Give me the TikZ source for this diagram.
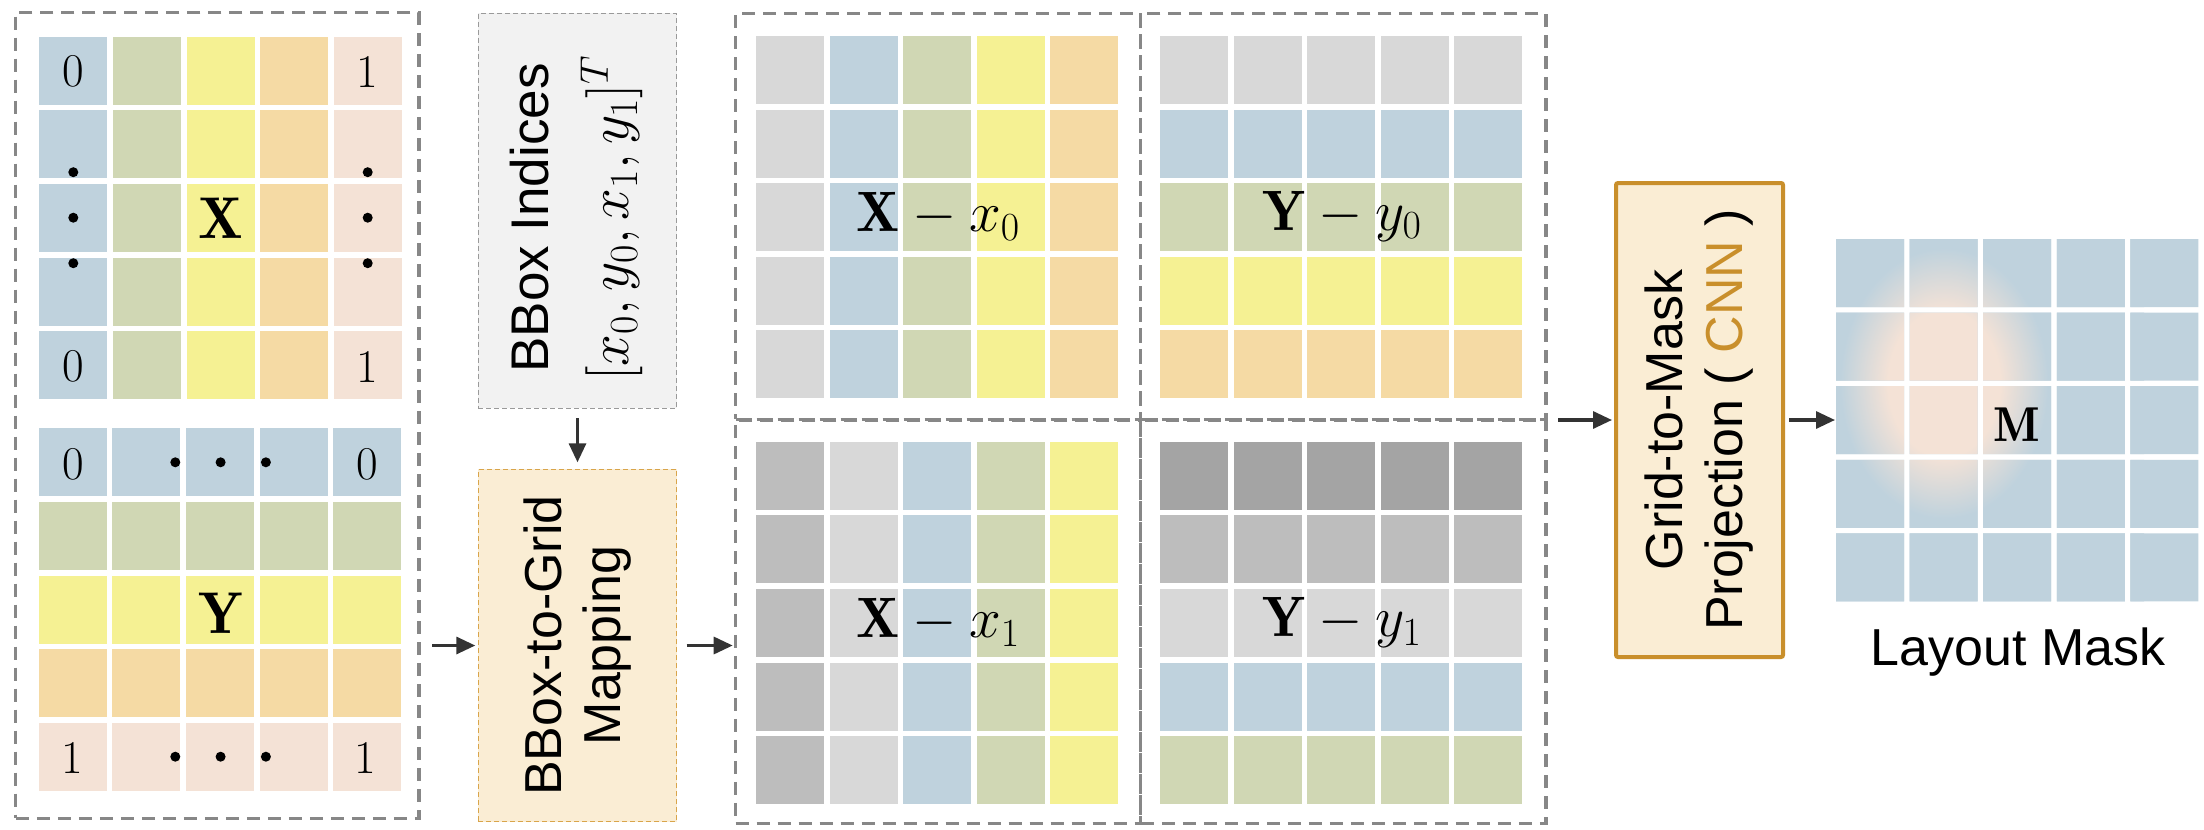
\RequirePackage{fix-cm}
\documentclass[tikz,border=0pt]{standalone}
\usepackage{fontspec}
\newfontfamily\labelfont{Liberation Sans}
\usetikzlibrary{arrows.meta}

% palette
\definecolor{cblue}{HTML}{BFD2DD}
\definecolor{cgreen}{HTML}{D0D7B4}
\definecolor{cyellow}{HTML}{F5F193}
\definecolor{corange}{HTML}{F5DAA4}
\definecolor{cpeach}{HTML}{F4E2D6}
\definecolor{gLight}{HTML}{D8D8D8}
\definecolor{gMid}{HTML}{BDBDBD}
\definecolor{gDark}{HTML}{A4A4A4}
\definecolor{panelgray}{HTML}{878787}
\definecolor{boxgray}{HTML}{F2F2F2}
\definecolor{boxedge}{HTML}{9A9A9A}
\definecolor{cream}{HTML}{FAEDD4}
\definecolor{gold}{HTML}{C98F2B}
\definecolor{goldlight}{HTML}{D9A54B}
\definecolor{arrowc}{HTML}{333333}

% soft peach region of the layout mask (25bp = half the shaded box)
\pgfdeclareradialshading{maskblob}{\pgfpoint{0bp}{0bp}}{%
  color(0bp)=(cpeach); color(7bp)=(cpeach); color(13bp)=(cblue); color(50bp)=(cblue)}

% 5x5 grid coloured by column / by row: #1,#2 = top-left corner, #3 = five colours
\newcommand\colgrid[3]{%
  \foreach \cc [count=\ci from 0] in {#3}{%
    \foreach \rj in {0,...,4}{%
      \fill[\cc] ({#1+\ci*73.6},{#2+\rj*73.6}) rectangle ++(68,68);}}}
\newcommand\rowgrid[3]{%
  \foreach \cc [count=\rj from 0] in {#3}{%
    \foreach \ci in {0,...,4}{%
      \fill[\cc] ({#1+\ci*73.6},{#2+\rj*73.6}) rectangle ++(68,68);}}}

\tikzset{
  panel/.style={draw=panelgray, line width=3.2pt, dash pattern=on 13pt off 8pt,
    inner sep=0pt, outer sep=0pt},
  idxbox/.style={draw=boxedge, fill=boxgray, line width=1.4pt,
    dash pattern=on 5pt off 3pt, inner sep=0pt, outer sep=0pt},
  mapbox/.style={draw=goldlight, fill=cream, line width=1.4pt,
    dash pattern=on 5pt off 3pt, inner sep=0pt, outer sep=0pt},
  projbox/.style={draw=gold, fill=cream, line width=4pt, rounded corners=2pt,
    inner sep=0pt, outer sep=0pt},
  sanslbl/.style={font=\labelfont\fontsize{52}{59}\selectfont, inner sep=0pt},
  cellnum/.style={font=\fontsize{47}{50}\selectfont, inner sep=0pt, anchor=base},
  mathlbl/.style={font=\fontsize{57}{60}\selectfont, inner sep=0pt, anchor=base},
  flow/.style={draw=arrowc, line width=3.2pt, -{Triangle[length=19pt,width=17pt]}},
}

\begin{document}
\begin{tikzpicture}[x=1pt,y=-1pt]
\useasboundingbox (0,0) rectangle (2204,830);
\fill[white] (0,0) rectangle (2204,830);

% ---------- grids ----------
\colgrid{39.3}{36.7}{cblue,cgreen,cyellow,corange,cpeach}
\rowgrid{38.8}{428.3}{cblue,cgreen,cyellow,corange,cpeach}
\colgrid{756}{36}{gLight,cblue,cgreen,cyellow,corange}
\colgrid{756}{441.7}{gMid,gLight,cblue,cgreen,cyellow}
\rowgrid{1160}{36}{gLight,cblue,cgreen,cyellow,corange}
\rowgrid{1160}{441.7}{gDark,gMid,gLight,cblue,cgreen}

% layout mask: blue cells with a blurred peach region
\begin{scope}
  \path[clip] \foreach \ci in {0,...,4}{\foreach \rj in {0,...,4}{
      ({1836+\ci*73.6},{239+\rj*73.6}) rectangle ++(68,68)}};
  \fill[cblue] (1830,230) rectangle (2204,610);
  \shade[shading=maskblob] (1744,123.4) rectangle (2144,643.4);
\end{scope}

% ---------- dashed panels ----------
\node[panel, minimum width=403.3, minimum height=806] (lpanel) at (217.4,415.3) {};
\node[panel, minimum width=405, minimum height=406] (xpzero) at (938.2,216.3) {};
\node[panel, minimum width=405, minimum height=403.3] (xpone) at (938.2,621.7) {};
\node[panel, minimum width=405.3, minimum height=406] (ypzero) at (1343.4,216.3) {};
\node[panel, minimum width=405.3, minimum height=403.3] (ypone) at (1343.4,621.7) {};

% ---------- processing boxes ----------
\node[idxbox, minimum width=198.4, minimum height=395] (bbox) at (577.5,210.8) {};
\node[mapbox, minimum width=198.4, minimum height=352.4] (map) at (577.5,645.5) {};
\node[projbox, minimum width=167, minimum height=474] (proj) at (1699.5,420) {};

\node[sanslbl, rotate=90, align=center, font=\labelfont\fontsize{53}{59}\selectfont]
  (idxtext) at (576.5,218)
  {BBox Indices\\[21pt]{\fontsize{57}{59}\selectfont$[x_0,y_0,x_1,y_1]^T$}};
\node[sanslbl, rotate=90, align=center] (maptext) at (map.center)
  {BBox-to-Grid\\Mapping};
\node[sanslbl, rotate=90, align=center, font=\labelfont\fontsize{52}{60}\selectfont]
  (projtext) at (proj.center)
  {Grid-to-Mask\\Projection ( \textcolor{gold}{CNN} )};

% ---------- labels on the grids ----------
\node[cellnum] (xa) at (73.3,86) {0};
\node[cellnum] (xb) at (367.7,87) {1};
\node[cellnum] (xc) at (73.3,381.5) {0};
\node[cellnum] (xd) at (367.7,382.5) {1};
\node[mathlbl, font=\fontsize{59}{60}\selectfont] (xlbl) at (221,238) {$\mathbf{X}$};
\foreach \yy in {172.2,217.7,263.2}{
  \fill (73.3,\yy) circle[radius=5];
  \fill (367.7,\yy) circle[radius=5];}

\node[cellnum] (ya) at (73,479) {0};
\node[cellnum] (yb) at (367,479) {0};
\node[cellnum] (yc) at (72,773.3) {1};
\node[cellnum] (yd) at (365,773.3) {1};
\node[mathlbl, font=\fontsize{59}{60}\selectfont] (ylbl) at (221,633) {$\mathbf{Y}$};
\foreach \xx in {175.3,220.6,265.9}{
  \fill (\xx,462.3) circle[radius=5];
  \fill (\xx,756.7) circle[radius=5];}

\node[mathlbl] (xzl) at (938,231.7) {$\mathbf{X}-x_0$};
\node[mathlbl] (yzl) at (1342,230) {$\mathbf{Y}-y_0$};
\node[mathlbl] (xol) at (938,637.7) {$\mathbf{X}-x_1$};
\node[mathlbl] (yol) at (1342,636.7) {$\mathbf{Y}-y_1$};
\node[mathlbl, font=\fontsize{49}{50}\selectfont] (mlbl) at (2016.7,441.7) {$\mathbf{M}$};

\node[sanslbl, anchor=base] (masklbl) at (2018,665) {Layout Mask};
\coordinate (maskin) at (1836,420);

% ---------- connectors ----------
\draw[flow, shorten <=13pt, shorten >=3pt] (lpanel.east |- map.west) -- (map.west);
\draw[flow, shorten <=10pt, shorten >=7pt] (bbox.south) -- (map.north);
\draw[flow, shorten <=10pt, shorten >=3pt] (map.east) -- (xpone.west |- map.east);
\draw[flow, shorten <=12pt, shorten >=4pt] (ypzero.south east |- proj.west) -- (proj.west);
\draw[flow, shorten <=6pt, shorten >=1pt] (proj.east) -- (maskin);
\end{tikzpicture}
\end{document}
